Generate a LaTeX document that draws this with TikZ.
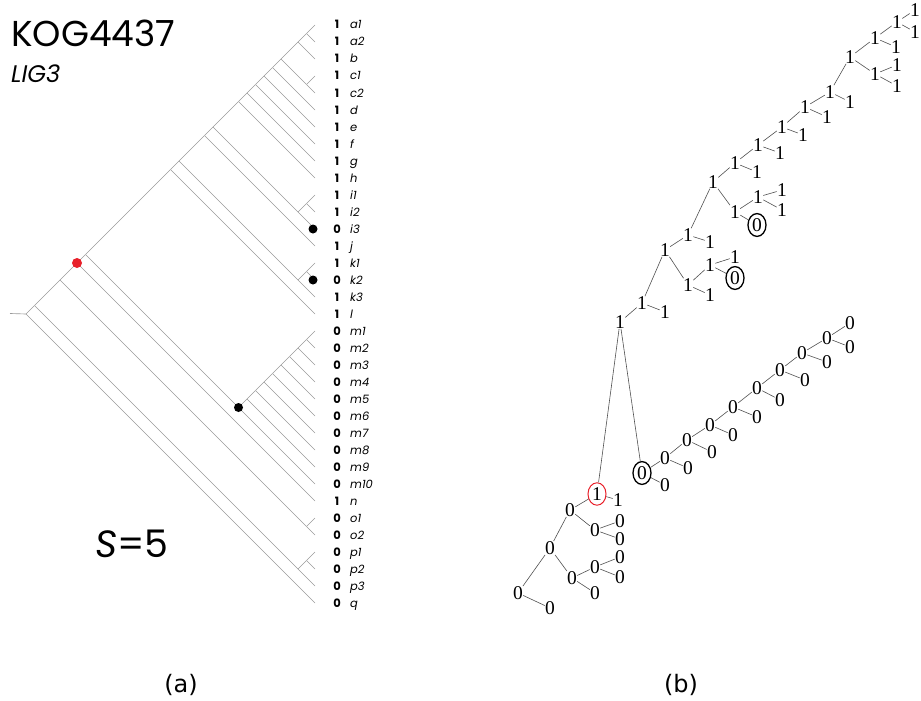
\documentclass[tikz,border=0pt]{standalone}
\usepackage{fontspec}
\setmainfont{Poppins}
\newfontfamily\statefont{Liberation Serif}
\newfontfamily\capfont{DejaVu Sans}
\usetikzlibrary{shapes.geometric}
\definecolor{treegray}{HTML}{9A9A9A}
\definecolor{dotred}{HTML}{E8202A}
\definecolor{edgegray}{HTML}{505050}

% clade node placed from the rows of its first and last leaf
\newcommand\cladenode[3]{\coordinate (#1) at ({315-8.5*(#3-#2)},{25+8.5*(#2+#3)});}

\begin{document}
\begin{tikzpicture}[x=1pt,y=-1pt,
    branch/.style={draw=treegray, line width=0.65pt},
    tipval/.style={font=\fontsize{11.5}{11.5}\selectfont\bfseries, anchor=base, inner sep=0pt},
    tipname/.style={font=\fontsize{11.5}{11.5}\selectfont\itshape, anchor=base west, inner sep=0pt},
    lossdot/.style={circle, fill=black, inner sep=0pt, minimum size=9pt},
    gaindot/.style={circle, fill=dotred, inner sep=0pt, minimum size=10pt},
    st/.style={font=\statefont\fontsize{19.5}{19.5}\selectfont, inner sep=0.2pt},
    lost/.style={draw=black, ellipse, line width=1.3pt, inner sep=1.5pt},
    gain/.style={draw=dotred, ellipse, line width=1pt, inner sep=1.5pt},
    edge/.style={draw=edgegray, line width=0.6pt},
  ]
  \useasboundingbox (0,0) rectangle (921,701);

  % (a) titles
  \node[anchor=base west, inner sep=0pt, font=\fontsize{36}{36}\selectfont] (kog) at (11,47) {KOG4437};
  \node[anchor=base west, inner sep=0pt, font=\fontsize{24}{24}\selectfont\itshape] (gene) at (11,82) {LIG3};
  \node[anchor=base west, inner sep=0pt, font=\fontsize{38}{38}\selectfont] (score) at (95,557) {\textit{S}=5};

  % (a) leaves
  \foreach \nm/\st [count=\i from 0] in {a1/1,a2/1,b/1,c1/1,c2/1,d/1,e/1,f/1,g/1,h/1,
      i1/1,i2/1,i3/0,j/1,k1/1,k2/0,k3/1,l/1,m1/0,m2/0,m3/0,m4/0,m5/0,m6/0,m7/0,m8/0,
      m9/0,m10/0,n/1,o1/0,o2/0,p1/0,p2/0,p3/0,q/0}{
    \coordinate (\nm) at (315,25+17*\i);
    \node[tipval] (v\nm) at (337,29+17*\i) {\st};
    \node[tipname] (t\nm) at (350,29+17*\i) {\nm};
  }

  % (a) clades
  \cladenode{nA12}{0}{1}  \cladenode{nAB}{0}{2}  \cladenode{nC}{3}{4}
  \cladenode{nAC}{0}{4}   \cladenode{nAD}{0}{5}  \cladenode{nAE}{0}{6}
  \cladenode{nAF}{0}{7}   \cladenode{nAG}{0}{8}  \cladenode{nAH}{0}{9}
  \cladenode{nI12}{10}{11} \cladenode{nI}{10}{12} \cladenode{nAI}{0}{12}
  \cladenode{nAJ}{0}{13}  \cladenode{nK12}{14}{15} \cladenode{nK}{14}{16}
  \cladenode{nAK}{0}{16}  \cladenode{nAL}{0}{17}
  \cladenode{nM2}{18}{19} \cladenode{nM3}{18}{20} \cladenode{nM4}{18}{21}
  \cladenode{nM5}{18}{22} \cladenode{nM6}{18}{23} \cladenode{nM7}{18}{24}
  \cladenode{nM8}{18}{25} \cladenode{nM9}{18}{26} \cladenode{nM10}{18}{27}
  \cladenode{nAM}{0}{27}  \cladenode{nAN}{0}{28}
  \cladenode{nO}{29}{30}  \cladenode{nAO}{0}{30}
  \cladenode{nP12}{31}{32} \cladenode{nP}{31}{33} \cladenode{nAP}{0}{33}
  \cladenode{root}{0}{34}
  \coordinate (stem) at (10,313.5);

  \foreach \u/\v in {nA12/a1,nA12/a2,nAB/nA12,nAB/b,nC/c1,nC/c2,nAC/nAB,nAC/nC,
      nAD/nAC,nAD/d,nAE/nAD,nAE/e,nAF/nAE,nAF/f,nAG/nAF,nAG/g,nAH/nAG,nAH/h,
      nI12/i1,nI12/i2,nI/nI12,nI/i3,nAI/nAH,nAI/nI,nAJ/nAI,nAJ/j,
      nK12/k1,nK12/k2,nK/nK12,nK/k3,nAK/nAJ,nAK/nK,nAL/nAK,nAL/l,
      nM2/m1,nM2/m2,nM3/nM2,nM3/m3,nM4/nM3,nM4/m4,nM5/nM4,nM5/m5,nM6/nM5,nM6/m6,
      nM7/nM6,nM7/m7,nM8/nM7,nM8/m8,nM9/nM8,nM9/m9,nM10/nM9,nM10/m10,
      nAM/nAL,nAM/nM10,nAN/nAM,nAN/n,nO/o1,nO/o2,nAO/nAN,nAO/nO,
      nP12/p1,nP12/p2,nP/nP12,nP/p3,nAP/nAO,nAP/nP,root/nAP,root/q,root/stem}
    \draw[branch] (\u) -- (\v);

  \node[lossdot, xshift=-2pt] (dI3) at (i3) {};
  \node[lossdot, xshift=-2pt] (dK2) at (k2) {};
  \node[lossdot] (dM) at (nM10) {};
  \node[gaindot] (dN) at (nAN) {};

  % (b) states on the tree
  \node[st] (ra1) at (915,10) {1};
  \node[st] (ra2) at (915,32) {1};
  \node[st] (rA12) at (897,22) {1};
  \node[st] (rb) at (896,47) {1};
  \node[st] (rAB) at (875,38) {1};
  \node[st] (rc1) at (897,65) {1};
  \node[st] (rc2) at (897,86) {1};
  \node[st] (rC) at (875,74) {1};
  \node[st] (rAC) at (850,57) {1};
  \node[st] (rd) at (850,102) {1};
  \node[st] (rAD) at (830,92) {1};
  \node[st] (re) at (827,117) {1};
  \node[st] (rAE) at (805,107) {1};
  \node[st] (rf) at (803,135) {1};
  \node[st] (rAF) at (782,127) {1};
  \node[st] (rg) at (780,153) {1};
  \node[st] (rAG) at (758,145) {1};
  \node[st] (rh) at (757,172) {1};
  \node[st] (rAH) at (735,163) {1};
  \node[st] (ri1) at (782,190) {1};
  \node[st] (ri2) at (782,210) {1};
  \node[st] (rI12) at (758,197) {1};
  \node[st, lost] (ri3) at (757,225) {0};
  \node[st] (rI) at (735,212) {1};
  \node[st] (rAI) at (713,182) {1};
  \node[st] (rj) at (710,242) {1};
  \node[st] (rAJ) at (688,235) {1};
  \node[st] (rk1) at (735,257) {1};
  \node[st, lost] (rk2) at (735,278) {0};
  \node[st] (rK12) at (710,265) {1};
  \node[st] (rk3) at (710,295) {1};
  \node[st] (rK) at (688,285) {1};
  \node[st] (rAK) at (665,250) {1};
  \node[st] (rl) at (665,312) {1};
  \node[st] (rAL) at (642,303) {1};
  \node[st] (rAM) at (620,322) {1};
  \node[st, lost] (rM10) at (642,473) {0};
  \node[st] (rm10) at (665,485) {0};
  \node[st] (rM9) at (665,458) {0};
  \node[st] (rm9) at (688,468) {0};
  \node[st] (rM8) at (687,440) {0};
  \node[st] (rm8) at (712,452) {0};
  \node[st] (rM7) at (710,425) {0};
  \node[st] (rm7) at (733,435) {0};
  \node[st] (rM6) at (733,407) {0};
  \node[st] (rm6) at (757,417) {0};
  \node[st] (rM5) at (757,388) {0};
  \node[st] (rm5) at (780,400) {0};
  \node[st] (rM4) at (780,370) {0};
  \node[st] (rm4) at (805,380) {0};
  \node[st] (rM3) at (802,353) {0};
  \node[st] (rm3) at (827,362) {0};
  \node[st] (rM2) at (827,338) {0};
  \node[st] (rm2) at (850,347) {0};
  \node[st] (rm1) at (850,323) {0};
  \node[st, gain] (rAN) at (597,494) {1};
  \node[st] (rn) at (618,500) {1};
  \node[st] (rAO) at (570,510) {0};
  \node[st] (rO) at (595,530) {0};
  \node[st] (ro1) at (620,521) {0};
  \node[st] (ro2) at (620,539) {0};
  \node[st] (rAP) at (550,548) {0};
  \node[st] (rP) at (572,578) {0};
  \node[st] (rP12) at (595,567) {0};
  \node[st] (rp1) at (620,557) {0};
  \node[st] (rp2) at (620,577) {0};
  \node[st] (rp3) at (595,593) {0};
  \node[st] (rroot) at (518,593) {0};
  \node[st] (rq) at (550,608) {0};

  \foreach \u/\v in {rA12/ra1,rA12/ra2,rAB/rA12,rAB/rb,rC/rc1,rC/rc2,rAC/rAB,rAC/rC,
      rAD/rAC,rAD/rd,rAE/rAD,rAE/re,rAF/rAE,rAF/rf,rAG/rAF,rAG/rg,rAH/rAG,rAH/rh,
      rI12/ri1,rI12/ri2,rI/rI12,rI/ri3,rAI/rAH,rAI/rI,rAJ/rAI,rAJ/rj,
      rK12/rk1,rK12/rk2,rK/rK12,rK/rk3,rAK/rAJ,rAK/rK,rAL/rAK,rAL/rl,
      rAM/rAL,rAM/rM10,rM10/rM9,rM10/rm10,rM9/rM8,rM9/rm9,rM8/rM7,rM8/rm8,
      rM7/rM6,rM7/rm7,rM6/rM5,rM6/rm6,rM5/rM4,rM5/rm5,rM4/rM3,rM4/rm4,
      rM3/rM2,rM3/rm3,rM2/rm1,rM2/rm2,rAN/rAM,rAN/rn,rAO/rAN,rAO/rO,
      rO/ro1,rO/ro2,rAP/rAO,rAP/rP,rP/rP12,rP/rp3,rP12/rp1,rP12/rp2,
      rroot/rAP,rroot/rq}
    \draw[edge] (\u) -- (\v);

  % panel captions
  \node[font=\capfont\fontsize{24}{24}\selectfont] (capa) at (181,685) {(a)};
  \node[font=\capfont\fontsize{24}{24}\selectfont] (capb) at (681,685) {(b)};
\end{tikzpicture}
\end{document}
